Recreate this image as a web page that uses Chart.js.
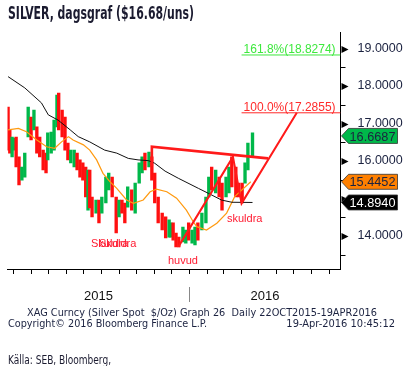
<!DOCTYPE html>
<html>
<head>
<meta charset="utf-8">
<script src="https://cdn.jsdelivr.net/npm/chart.js@4/dist/chart.umd.min.js"></script>
<style>
html,body{margin:0;padding:0;background:#fff;}
#wrap{position:relative;width:405px;height:366px;}
</style>
</head>
<body>
<div id="wrap"><canvas id="c" width="405" height="366"></canvas></div>
<script>
// ---- data (x = days since 2015-01-01) ----
const candleDays = [50,53,57,60,64,69,74,79,85,90,95,100,105,111,116,119,125,130,135,138,144,149,154,159,165,170,175,180,185,189,192,196,203,208,213,220,225,231,238,243,248,253,258,265,271,278,283,288,295,300,305,311,318,324,330,333,337,342,347,354,359,364,370,375,380,387,394,399,404,411,417,422,429,434,439,446,451,457,462,467,475];
const candleHigh = [17.44,16.83,16.64,16.61,16.64,16.11,15.84,16.21,17.44,17.17,17.36,16.91,16.64,16.29,16.21,16.75,16.77,17.09,17.76,17.81,17.36,17.17,16.48,16.29,16.29,16.21,16.03,15.95,15.84,15.76,15.76,15.04,14.96,14.96,15.04,15.57,15.68,15.57,15.04,14.96,14.96,14.88,15.31,15.23,15.41,15.95,16.11,16.21,16.24,16.11,15.68,15.04,14.61,14.51,14.43,14.35,14.35,14.08,13.97,14.24,14.16,14.35,14.16,14.24,14.35,14.61,15.04,15.57,15.84,15.76,15.57,15.41,15.57,15.84,16.11,15.84,15.41,15.41,15.95,16.48,16.75];
const candleLow = [16.29,16.21,16.11,16.29,15.84,15.36,15.49,15.57,16.64,16.56,16.83,16.21,16.11,15.76,15.68,16.03,16.21,16.29,16.91,16.83,16.64,16.29,16.03,15.95,15.84,15.76,15.57,15.49,15.04,14.69,14.75,14.51,14.61,14.35,14.61,14.88,15.23,15.04,14.08,14.51,14.61,14.35,14.77,14.69,14.61,15.41,15.68,15.76,15.84,15.49,14.88,14.35,14.16,13.95,13.97,13.97,13.89,13.71,13.71,13.84,13.81,13.89,13.81,13.76,13.89,14.16,14.35,15.04,15.23,15.15,15.04,14.69,15.04,15.15,15.31,15.04,15.04,14.88,15.41,15.76,16.11];
const candleUp = [0,0,1,1,0,0,1,1,1,0,1,0,0,0,0,1,1,1,1,0,0,0,0,1,1,0,0,0,0,1,0,0,1,0,1,1,1,0,0,1,0,0,1,0,1,1,1,0,1,0,0,0,0,0,1,1,0,0,0,1,1,0,1,1,0,1,1,1,0,1,0,0,1,1,0,0,0,0,1,1,1];

const maLongDays = [50,79,108,120,137,158,172,192,218,239,259,276,294,305,323,346,381,398,421,439,475];
const maLongVals = [18.25,17.95,17.55,17.23,17.09,16.83,16.65,16.51,16.29,16.21,16.07,16.03,16.01,15.94,15.73,15.54,15.27,15.14,14.96,14.90,14.894];
const maShortDays = [50,68,82,100,117,131,143,155,163,181,192,204,215,227,239,256,268,285,297,308,326,343,360,372,378,395,413,430,444,472];
const maShortVals = [16.83,16.87,16.78,16.56,16.38,16.34,16.51,16.65,16.56,16.43,16.29,16.03,15.67,15.45,15.27,14.96,14.87,14.96,15.18,15.25,15.18,15.01,14.69,14.38,14.25,14.16,14.34,14.61,15.05,15.445];

const neckDays = [300,300,502];
const neckVals = [15.87,16.38,16.07];
const patternDays = [346,441,456,552];
const patternVals = [13.71,16.11,14.87,17.2855];

const fibLevels = [18.8274,17.2855];
const fibLabels = ['161.8%(18.8274)','100.0%(17.2855)'];
const fibStartDay = 456;

const lastValues = [16.6687,15.4452,14.8940];
const yTickValues = [13.5,14,14.5,15,15.5,16,16.5,17,17.5,18,18.5,19];
const yearLabels = ['2015','2016'];

// ---- helpers ----
function dayOf(y,m,d){return Math.round((Date.UTC(y,m-1,d)-Date.UTC(2015,0,1))/86400000);}
const monthTicks=[];
for(let y=2015;y<=2016;y++){for(let m=1;m<=12;m++){const d=dayOf(y,m,1);if(d>=49&&d<=628)monthTicks.push(d);}}
const yearStart2016 = dayOf(2016,1,1);

const SANS = "'Liberation Sans','DejaVu Sans',sans-serif";
const COND = "'DejaVu Sans Condensed','Liberation Sans',sans-serif";
const TXT = '#1b2240';

const candleData = candleDays.map((d,i)=>({x:d,y:[candleLow[i],candleHigh[i]]}));
const candleColors = candleUp.map(u=>u?'#00b84a':'#ff1010');
const pts=(xs,ys)=>xs.map((d,i)=>({x:d,y:ys[i]}));

const overlay = {
  id:'overlay',
  afterDraw(chart){
    const ctx=chart.ctx, xs=chart.scales.x, ys=chart.scales.y, ca=chart.chartArea;
    ctx.save();
    // title
    ctx.fillStyle='#1b1b30';
    ctx.font="bold 17px "+COND;
    ctx.textBaseline='alphabetic';ctx.textAlign='left';
    ctx.fillText('SILVER, dagsgraf ($16.68/uns)',8,19,186);
    // y axis marks
    ctx.fillStyle='#000';ctx.strokeStyle='#000';ctx.lineWidth=1;
    yTickValues.forEach(v=>{
      const py=Math.round(ys.getPixelForValue(v))+0.5;
      if(Number.isInteger(v)){
        ctx.beginPath();ctx.moveTo(ca.right+1,py-3.5);ctx.lineTo(ca.right+8,py);ctx.lineTo(ca.right+1,py+3.5);ctx.closePath();ctx.fill();
      }else{
        ctx.beginPath();ctx.moveTo(ca.right,py);ctx.lineTo(ca.right+5,py);ctx.stroke();
      }
    });
    // fib labels
    ctx.font="13px "+SANS;
    const fibCols=['#3ee83e','#ff2a2a'];
    fibLevels.forEach((v,i)=>{
      const py=ys.getPixelForValue(v);
      ctx.fillStyle=fibCols[i];
      ctx.fillText(fibLabels[i],xs.getPixelForValue(fibStartDay)+2,py-2,92);
    });
    // pattern annotations
    ctx.fillStyle='#ff1a30';
    ctx.font="11px "+SANS;
    ctx.fillText('Skuldra',91,247);
    ctx.fillText('Skuldra',99,247);
    ctx.fillText('huvud',168,264);
    ctx.fillText('skuldra',227,222);
    // value boxes
    const boxCols=[['#00b84a',TXT],['#ff8000',TXT],['#000000','#ffffff']];
    ctx.font="13px "+SANS;
    lastValues.forEach((v,i)=>{
      const py=ys.getPixelForValue(v);
      const x0=ca.right+1, x1=ca.right+8, x2=ca.right+57, h=7.5;
      ctx.beginPath();ctx.moveTo(x0,py);ctx.lineTo(x1,py-h);ctx.lineTo(x2,py-h);ctx.lineTo(x2,py+h);ctx.lineTo(x1,py+h);ctx.closePath();
      ctx.fillStyle=boxCols[i][0];ctx.fill();
      ctx.strokeStyle='#333';ctx.lineWidth=0.8;ctx.stroke();
      ctx.fillStyle=boxCols[i][1];ctx.textBaseline='middle';
      ctx.fillText(v.toFixed(4),ca.right+9,py+1,46);
      ctx.textBaseline='alphabetic';
    });
    // year labels + separator
    const sep=Math.round(xs.getPixelForValue(yearStart2016))+0.5;
    ctx.strokeStyle='#888';ctx.lineWidth=1;
    ctx.beginPath();ctx.moveTo(sep,287);ctx.lineTo(sep,302);ctx.stroke();
    ctx.fillStyle='#111';ctx.font="13px "+SANS;ctx.textAlign='center';
    ctx.fillText(yearLabels[0],(ca.left+sep)/2,300);
    ctx.fillText(yearLabels[1],(sep+ca.right)/2,300);
    // footer
    ctx.font="11px "+COND;
    ctx.fillStyle=TXT;
    ctx.fillText('XAG Curncy (Silver Spot  $/Oz) Graph 26  Daily 22OCT2015-19APR2016',202,316,350);
    ctx.textAlign='left';
    ctx.fillText('Copyright\u00a9 2016 Bloomberg Finance L.P.',8,327,199);
    ctx.textAlign='right';
    ctx.fillText('19-Apr-2016 10:45:12',395,327,111);
    ctx.textAlign='left';
    ctx.fillStyle='#1b1b30';
    ctx.font="12px "+COND;
    ctx.fillText('K\u00e4lla: SEB, Bloomberg,',8,364,103);
    ctx.restore();
  }
};

new Chart(document.getElementById('c'),{
  type:'bar',
  data:{datasets:[
    {type:'line',data:pts(patternDays,patternVals),borderColor:'#ff1a1a',borderWidth:2,pointRadius:0,order:1},
    {type:'line',data:pts(neckDays,neckVals),borderColor:'#ff1a1a',borderWidth:2.6,pointRadius:0,order:1},
    {type:'line',data:[{x:fibStartDay,y:fibLevels[0]},{x:628,y:fibLevels[0]}],borderColor:'#3ee83e',borderWidth:1,pointRadius:0,order:1},
    {type:'line',data:[{x:fibStartDay,y:fibLevels[1]},{x:628,y:fibLevels[1]}],borderColor:'#ff2a2a',borderWidth:1,pointRadius:0,order:1},
    {type:'line',data:pts(maLongDays,maLongVals),borderColor:'#111',borderWidth:1,pointRadius:0,order:3},
    {type:'line',data:pts(maShortDays,maShortVals),borderColor:'#ff9a10',borderWidth:1.2,pointRadius:0,order:3},
    {type:'bar',data:candleData,backgroundColor:candleColors,barThickness:2.7,order:5}
  ]},
  options:{
    responsive:false,animation:false,
    layout:{padding:{left:7.5,top:32,right:0,bottom:0}},
    plugins:{legend:{display:false},tooltip:{enabled:false}},
    scales:{
      x:{type:'linear',min:49,max:628,offset:false,
        afterBuildTicks(s){s.ticks=monthTicks.map(v=>({value:v}));},
        afterFit(s){s.height=97;},
        ticks:{display:false},
        grid:{display:true,offset:false,drawOnChartArea:false,drawTicks:true,tickLength:5,color:'#000'},
        border:{display:true,color:'#000',width:1}},
      y:{type:'linear',position:'right',min:13.12,max:19.44,
        afterBuildTicks(s){s.ticks=yTickValues.map(v=>({value:v}));},
        afterFit(s){s.width=64.5;},
        ticks:{padding:9,color:TXT,font:{family:SANS,size:12.5},
          callback:(v)=>(Number.isInteger(v)&&v!==15)?v.toFixed(4):''},
        grid:{display:false},
        border:{display:true,color:'#000',width:1}}
    }
  },
  plugins:[overlay]
});
</script>
</body>
</html>
